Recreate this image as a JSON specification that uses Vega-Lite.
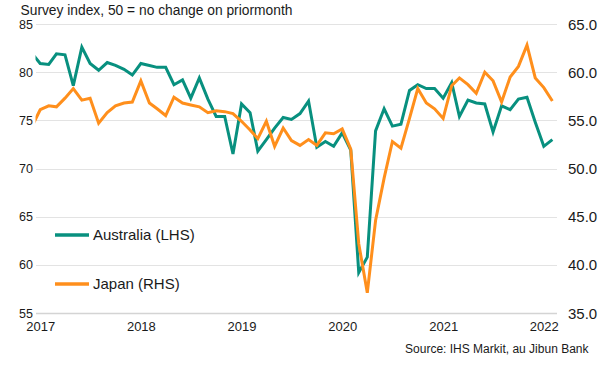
{
  "$schema": "https://vega.github.io/schema/vega-lite/v6.json",
  "width": 521,
  "height": 289,
  "autosize": {"type": "none"},
  "padding": {"left": 35.5, "top": 24, "right": 48.5, "bottom": 53},
  "background": "white",
  "config": {
    "font": "Liberation Sans",
    "view": {"stroke": null},
    "axis": {"labelColor": "#1a1a1a", "titleColor": "#1a1a1a", "titleFontWeight": "normal"}
  },
  "datasets": {
    "pmi": [
      {"date": "2016-12-01", "Australia": 82.0, "Japan": 54.3},
      {"date": "2017-01-01", "Australia": 80.9, "Japan": 56.1},
      {"date": "2017-02-01", "Australia": 80.8, "Japan": 56.5},
      {"date": "2017-03-01", "Australia": 81.9, "Japan": 56.4},
      {"date": "2017-04-01", "Australia": 81.8, "Japan": 57.3},
      {"date": "2017-05-01", "Australia": 78.6, "Japan": 58.3},
      {"date": "2017-06-01", "Australia": 82.6, "Japan": 57.1},
      {"date": "2017-07-01", "Australia": 80.9, "Japan": 57.3},
      {"date": "2017-08-01", "Australia": 80.2, "Japan": 54.7},
      {"date": "2017-09-01", "Australia": 81.0, "Japan": 55.8},
      {"date": "2017-10-01", "Australia": 80.7, "Japan": 56.5},
      {"date": "2017-11-01", "Australia": 80.3, "Japan": 56.8},
      {"date": "2017-12-01", "Australia": 79.7, "Japan": 56.9},
      {"date": "2018-01-01", "Australia": 80.9, "Japan": 59.1},
      {"date": "2018-02-01", "Australia": 80.7, "Japan": 56.8},
      {"date": "2018-03-01", "Australia": 80.5, "Japan": 56.2},
      {"date": "2018-04-01", "Australia": 80.5, "Japan": 55.5},
      {"date": "2018-05-01", "Australia": 78.7, "Japan": 57.4},
      {"date": "2018-06-01", "Australia": 79.2, "Japan": 56.8},
      {"date": "2018-07-01", "Australia": 77.3, "Japan": 56.6},
      {"date": "2018-08-01", "Australia": 79.4, "Japan": 56.4},
      {"date": "2018-09-01", "Australia": 77.2, "Japan": 55.8},
      {"date": "2018-10-01", "Australia": 75.4, "Japan": 56.0},
      {"date": "2018-11-01", "Australia": 75.4, "Japan": 55.9},
      {"date": "2018-12-01", "Australia": 71.5, "Japan": 55.7},
      {"date": "2019-01-01", "Australia": 76.7, "Japan": 54.9},
      {"date": "2019-02-01", "Australia": 75.8, "Japan": 54.0},
      {"date": "2019-03-01", "Australia": 71.8, "Japan": 53.1},
      {"date": "2019-04-01", "Australia": 73.0, "Japan": 54.9},
      {"date": "2019-05-01", "Australia": 74.2, "Japan": 52.3},
      {"date": "2019-06-01", "Australia": 75.3, "Japan": 54.2},
      {"date": "2019-07-01", "Australia": 75.1, "Japan": 52.9},
      {"date": "2019-08-01", "Australia": 75.7, "Japan": 52.4},
      {"date": "2019-09-01", "Australia": 77.0, "Japan": 53.0},
      {"date": "2019-10-01", "Australia": 72.2, "Japan": 52.4},
      {"date": "2019-11-01", "Australia": 72.8, "Japan": 53.7},
      {"date": "2019-12-01", "Australia": 72.3, "Japan": 53.6},
      {"date": "2020-01-01", "Australia": 73.7, "Japan": 54.1},
      {"date": "2020-02-01", "Australia": 71.9, "Japan": 52.0},
      {"date": "2020-03-01", "Australia": 59.2, "Japan": 42.2},
      {"date": "2020-04-01", "Australia": 60.8, "Japan": 37.1},
      {"date": "2020-05-01", "Australia": 73.9, "Japan": 44.6},
      {"date": "2020-06-01", "Australia": 76.2, "Japan": 49.0},
      {"date": "2020-07-01", "Australia": 74.4, "Japan": 52.8},
      {"date": "2020-08-01", "Australia": 74.6, "Japan": 52.1},
      {"date": "2020-09-01", "Australia": 78.1, "Japan": 55.2},
      {"date": "2020-10-01", "Australia": 78.7, "Japan": 58.3},
      {"date": "2020-11-01", "Australia": 78.3, "Japan": 56.8},
      {"date": "2020-12-01", "Australia": 78.3, "Japan": 56.2},
      {"date": "2021-01-01", "Australia": 77.3, "Japan": 55.2},
      {"date": "2021-02-01", "Australia": 78.9, "Japan": 58.6},
      {"date": "2021-03-01", "Australia": 75.4, "Japan": 59.4},
      {"date": "2021-04-01", "Australia": 77.1, "Japan": 58.7},
      {"date": "2021-05-01", "Australia": 76.8, "Japan": 57.8},
      {"date": "2021-06-01", "Australia": 76.7, "Japan": 60.0},
      {"date": "2021-07-01", "Australia": 73.8, "Japan": 59.1},
      {"date": "2021-08-01", "Australia": 76.5, "Japan": 56.9},
      {"date": "2021-09-01", "Australia": 76.1, "Japan": 59.5},
      {"date": "2021-10-01", "Australia": 77.2, "Japan": 60.6},
      {"date": "2021-11-01", "Australia": 77.4, "Japan": 62.8},
      {"date": "2021-12-01", "Australia": 74.8, "Japan": 59.4},
      {"date": "2022-01-01", "Australia": 72.3, "Japan": 58.4},
      {"date": "2022-02-01", "Australia": 73.0, "Japan": 57.0}
    ]
  },
  "data": {"name": "pmi"},
  "layer": [
    {
      "mark": {"type": "line", "strokeWidth": 3, "clip": true},
      "encoding": {
        "x": {
          "field": "date", "type": "temporal",
          "scale": {"type": "utc", "domain": [{"year": 2016, "month": 12, "date": 15, "utc": true}, {"year": 2022, "month": 2, "date": 16, "utc": true}]},
          "axis": {
            "values": [
              {"year": 2017, "month": 1, "date": 1, "utc": true},
              {"year": 2018, "month": 1, "date": 1, "utc": true},
              {"year": 2019, "month": 1, "date": 1, "utc": true},
              {"year": 2020, "month": 1, "date": 1, "utc": true},
              {"year": 2021, "month": 1, "date": 1, "utc": true},
              {"year": 2022, "month": 1, "date": 1, "utc": true}
            ],
            "format": "%Y", "formatType": "utc",
            "domain": true, "domainColor": "#D4D4D4", "domainWidth": 1.5,
            "ticks": false, "grid": false, "labelFlush": false,
            "labelFontSize": 13, "labelPadding": 7.5,
            "title": "Source: IHS Markit, au Jibun Bank",
            "titleFontSize": 12, "titleX": 552.5, "titleY": 35.5,
            "titleAlign": "right", "titleBaseline": "middle"
          }
        },
        "y": {
          "field": "Australia", "type": "quantitative",
          "scale": {"domain": [55, 85], "nice": false, "zero": false},
          "axis": {
            "values": [55, 60, 65, 70, 75, 80, 85],
            "grid": true, "gridColor": "#E3E3E3", "gridWidth": 1,
            "domain": false, "ticks": false, "labelPadding": 3, "labelFontSize": 12.5,
            "title": "Survey index, 50 = no change on priormonth",
            "titleAngle": 0, "titleX": -15.5, "titleY": -14,
            "titleAlign": "left", "titleBaseline": "middle", "titleFontSize": 13.8
          }
        },
        "color": {
          "datum": "Australia (LHS)", "type": "nominal",
          "scale": {"domain": ["Australia (LHS)", "Japan (RHS)"], "range": ["#08907F", "#FF8F1C"]},
          "legend": {
            "orient": "none", "legendX": 17.5, "legendY": 192, "title": null, "padding": 0,
            "symbolType": "stroke", "symbolSize": 1156, "symbolStrokeWidth": 3.5,
            "labelFontSize": 15, "labelOffset": 2, "rowPadding": 22, "labelColor": "#1a1a1a"
          }
        }
      }
    },
    {
      "mark": {"type": "line", "strokeWidth": 3, "clip": true},
      "encoding": {
        "x": {"field": "date", "type": "temporal"},
        "y": {
          "field": "Japan", "type": "quantitative",
          "scale": {"domain": [35, 65], "nice": false, "zero": false},
          "axis": {
            "orient": "right", "values": [35, 40, 45, 50, 55, 60, 65], "format": ".1f",
            "grid": false, "domain": false, "ticks": false,
            "labelPadding": 11, "labelFontSize": 15, "title": null
          }
        },
        "color": {"datum": "Japan (RHS)", "type": "nominal"}
      }
    }
  ],
  "resolve": {"scale": {"y": "independent"}}
}
